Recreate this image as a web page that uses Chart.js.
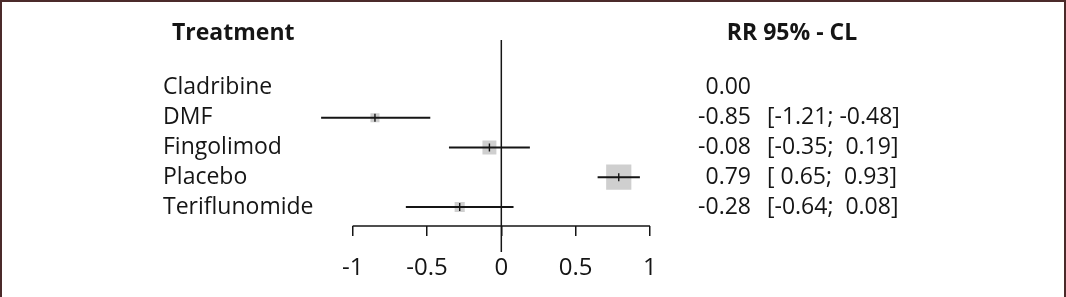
<!DOCTYPE html>
<html lang="en">
  <head>
    <meta charset="UTF-8" />
    <title>Forest plot</title>
    <script src="https://cdn.jsdelivr.net/npm/chart.js"></script>
    <style>
      body {
        margin: 0;
        background: #fff;
      }
      .frame {
        position: absolute;
        left: 0;
        top: 0;
        width: 1066px;
        height: 297px;
        box-sizing: border-box;
        border: 2px solid #4b2a2a;
        border-bottom: none;
      }
      canvas {
        position: absolute;
        left: 0;
        top: 0;
      }
    </style>
  </head>
  <body>
    <div class="frame"></div>
    <canvas id="forest" width="1066" height="297"></canvas>

    <script>
      // Data
      const treatments = ['Cladribine', 'DMF', 'Fingolimod', 'Placebo', 'Teriflunomide'];
      const estimates = [0.0, -0.85, -0.08, 0.79, -0.28];
      const lower = [null, -1.21, -0.35, 0.65, -0.64];
      const upper = [null, -0.48, 0.19, 0.93, 0.08];
      const weights = [0, 8, 19, 62, 10];
      const xTicks = [-1, -0.5, 0, 0.5, 1];

      const FONT = "'Open Sans', 'Noto Sans', sans-serif";
      const INK = '#151515';
      const SIZE = 23;

      const rows = treatments.map((t, i) => i).filter((i) => lower[i] !== null);

      const fmt = (v) => (v < 0 ? v.toFixed(2) : ' ' + v.toFixed(2));

      // zero line, axis line and the text columns
      const forestExtras = {
        id: 'forestExtras',
        beforeDatasetsDraw(chart) {
          const { ctx, chartArea, scales } = chart;
          const xs = scales.x;
          ctx.save();
          ctx.strokeStyle = INK;
          ctx.lineWidth = 1.5;
          const x0 = xs.getPixelForValue(0);
          ctx.beginPath();
          ctx.moveTo(x0, chartArea.top);
          ctx.lineTo(x0, chartArea.bottom + 26);
          ctx.stroke();
          ctx.beginPath();
          ctx.moveTo(xs.getPixelForValue(xTicks[0]), chartArea.bottom);
          ctx.lineTo(xs.getPixelForValue(xTicks[xTicks.length - 1]), chartArea.bottom);
          ctx.stroke();
          ctx.restore();
        },
        afterDraw(chart) {
          const { ctx, scales } = chart;
          const ys = scales.y;
          ctx.save();
          ctx.fillStyle = INK;
          ctx.textBaseline = 'middle';
          ctx.font = 'bold ' + SIZE + 'px ' + FONT;
          ctx.textAlign = 'left';
          ctx.fillText('Treatment', ys.left + 9, 33);
          ctx.textAlign = 'center';
          ctx.fillText('RR 95% - CL', 792, 33);

          ctx.font = SIZE + 'px ' + FONT;
          treatments.forEach((t, i) => {
            const y = ys.getPixelForValue(i);
            ctx.textAlign = 'right';
            ctx.fillText(estimates[i].toFixed(2), 751, y);
            if (lower[i] !== null) {
              ctx.textAlign = 'left';
              ctx.fillText('[' + fmt(lower[i]) + '; ' + fmt(upper[i]) + ']', 767, y);
            }
          });
          ctx.restore();
        },
      };

      new Chart(document.getElementById('forest'), {
        data: {
          datasets: [
            {
              type: 'scatter',
              order: 3,
              data: rows.map((i) => ({ x: estimates[i], y: i })),
              pointStyle: 'rect',
              backgroundColor: '#cfcfcf',
              borderWidth: 0,
              pointRadius: (c) => (3.2 * Math.sqrt(weights[rows[c.dataIndex]])) / 1.414,
            },
            {
              type: 'bar',
              order: 2,
              indexAxis: 'y',
              data: rows.map((i) => ({ x: [lower[i], upper[i]], y: i })),
              backgroundColor: INK,
              barThickness: 1.4,
            },
            {
              type: 'scatter',
              order: 1,
              data: rows.map((i) => ({ x: estimates[i], y: i })),
              pointStyle: 'line',
              rotation: 90,
              pointRadius: 4,
              borderColor: INK,
              borderWidth: 1.4,
            },
          ],
        },
        options: {
          responsive: false,
          animation: false,
          layout: { padding: { left: 163, right: 408.6, top: 40, bottom: 0 } },
          plugins: { legend: { display: false }, tooltip: { enabled: false } },
          scales: {
            x: {
              type: 'linear',
              position: 'bottom',
              min: -1.25,
              max: 1.05,
              offset: false,
              afterBuildTicks: (s) => {
                s.ticks = xTicks.map((v) => ({ value: v }));
              },
              afterFit: (s) => {
                s.height = 71;
              },
              border: { display: false },
              grid: {
                offset: false,
                drawOnChartArea: false,
                drawTicks: true,
                tickLength: 10,
                color: INK,
                lineWidth: 1.5,
              },
              ticks: {
                color: INK,
                padding: 18,
                font: { family: FONT, size: 24 },
                callback: (v) => String(v),
              },
            },
            y: {
              type: 'linear',
              reverse: true,
              offset: false,
              min: -1.61,
              max: 4.64,
              afterBuildTicks: (s) => {
                s.ticks = treatments.map((t, i) => ({ value: i }));
              },
              afterFit: (s) => {
                s.width = 152.5;
              },
              border: { display: false },
              grid: { display: false, offset: false },
              ticks: {
                color: INK,
                crossAlign: 'far',
                font: { family: FONT, size: SIZE },
                callback: (v) => treatments[v],
              },
            },
          },
        },
        plugins: [forestExtras],
      });
    </script>
  </body>
</html>
